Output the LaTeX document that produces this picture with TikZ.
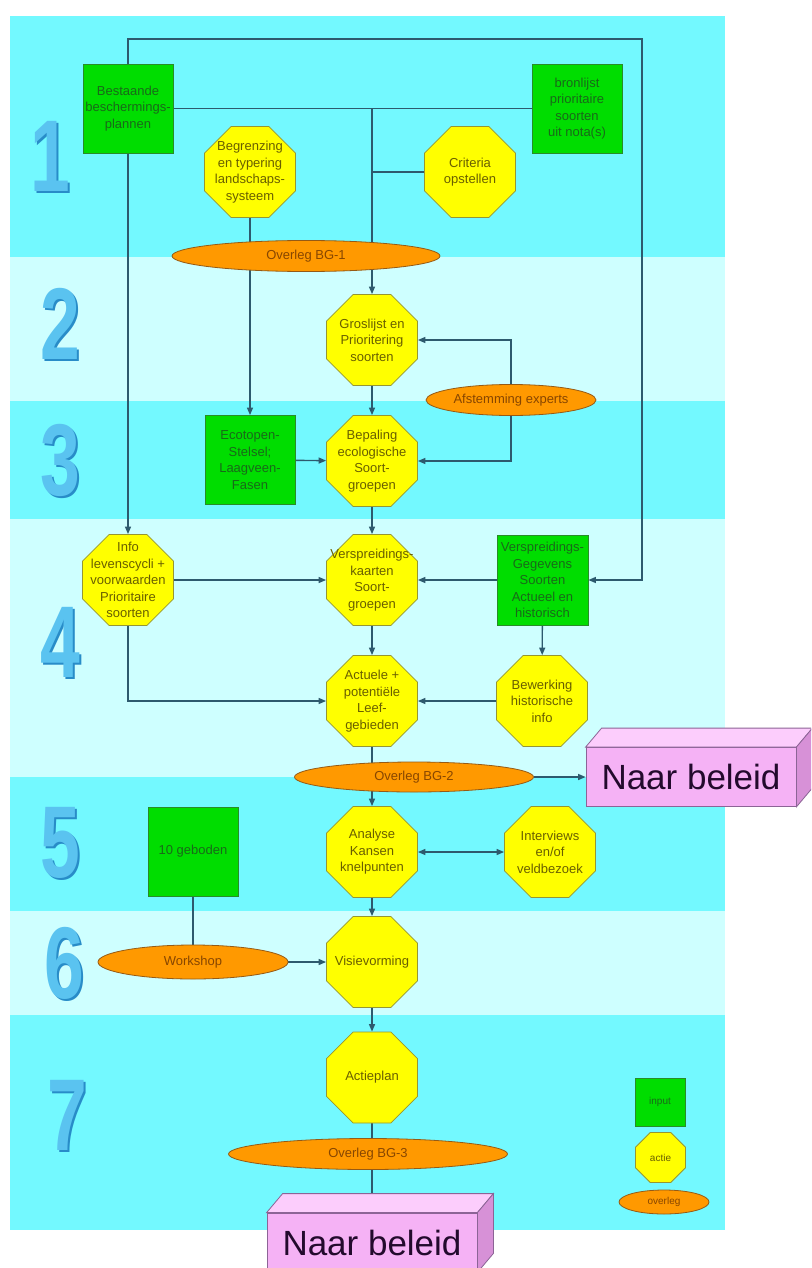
\documentclass[tikz,border=0pt]{standalone}
\usepackage{fontspec}
\setmainfont{Liberation Sans}
\usetikzlibrary{shapes.geometric,arrows.meta}

\definecolor{bandA}{RGB}{115,249,255}
\definecolor{bandB}{RGB}{206,255,255}
\definecolor{ingreen}{RGB}{0,221,0}
\definecolor{inline}{RGB}{40,140,40}
\definecolor{intext}{RGB}{25,105,25}
\definecolor{octfill}{RGB}{255,255,0}
\definecolor{octline}{RGB}{150,150,50}
\definecolor{octtext}{RGB}{105,95,0}
\definecolor{ovfill}{RGB}{255,153,0}
\definecolor{ovline}{RGB}{150,90,20}
\definecolor{ovtext}{RGB}{135,70,0}
\definecolor{pinkfront}{RGB}{245,178,245}
\definecolor{pinktop}{RGB}{252,205,252}
\definecolor{pinkside}{RGB}{215,145,215}
\definecolor{pinkline}{RGB}{140,100,150}
\definecolor{linecol}{RGB}{45,90,110}
\definecolor{digitcol}{RGB}{90,195,240}
\definecolor{digitdark}{RGB}{40,140,200}

\pgfdeclarelayer{bands}
\pgfdeclarelayer{lines}
\pgfsetlayers{bands,lines,main}

\begin{document}
\begin{tikzpicture}[x=1pt,y=-1pt,
  every node/.style={inner sep=0pt},
  txt/.style={align=center,font=\fontsize{13}{16.5}\selectfont},
  inbox/.style={rectangle,txt,fill=ingreen,draw=inline,line width=.8pt,text=intext,minimum width=90,minimum height=89},
  oct/.style={regular polygon,regular polygon sides=8,fill=octfill,draw=octline,line width=.8pt,minimum size=98.5},
  otxt/.style={txt,text=octtext},
  overleg/.style={ellipse,txt,fill=ovfill,draw=ovline,line width=.8pt,text=ovtext,minimum height=31},
  beleid/.style={rectangle,fill=pinkfront,draw=pinkline,line width=.8pt,minimum width=210,minimum height=59,
    text={rgb,255:red,35;green,10;blue,45},font=\fontsize{35}{40}\selectfont},
  digit/.style={text=digitcol,font=\fontsize{102}{102}\selectfont\bfseries,xscale=.7},
  conn/.style={draw=linecol,line width=1.4pt},
  arr/.style={conn,-{Triangle[length=7.5pt,width=6pt]}},
  dbl/.style={conn,{Triangle[length=7.5pt,width=6pt]}-{Triangle[length=7.5pt,width=6pt]}}]

\useasboundingbox (0,0) rectangle (811,1268);
\clip (0,0) rectangle (811,1268);

% bands
\begin{pgfonlayer}{bands}
\fill[white] (0,0) rectangle (811,1268);
\foreach \ya/\yb/\c in {16/257/bandA,257/401/bandB,401/519/bandA,519/777/bandB,777/911/bandA,911/1015/bandB,1015/1230/bandA}
  \fill[\c] (10,\ya) rectangle (725,\yb);
\end{pgfonlayer}

% step numbers
\foreach \n/\xx/\yy in {1/50/156,2/60/324,3/60/460,4/60/642,5/60/843,6/64/963,7/67/1115} {
  \node[digit,text=digitdark] at (\xx+2.5,\yy+2) {\n};
  \node[digit] (num\n) at (\xx,\yy) {\n};
}

% 1
\node[inbox] (bestaande) at (128,108.5) {Bestaande\\beschermings-\\plannen};
\node[inbox] (bronlijst) at (577,108.5) {bronlijst\\prioritaire\\soorten\\uit nota(s)};
\node[oct,label={[otxt]center:Begrenzing\\en typering\\landschaps-\\systeem}] (begrenzing) at (250,172) {};
\node[oct,label={[otxt]center:Criteria\\opstellen}] (criteria) at (470,172) {};
\node[overleg,minimum width=268] (overleg1) at (306,256) {Overleg BG-1};
\coordinate (topR) at (642,39);
\coordinate (j1) at (372,108.5);
\coordinate (j2) at (372,172);

% 2 en 3
\node[oct,label={[otxt]center:Groslijst en\\Prioritering\\soorten}] (groslijst) at (372,340) {};
\node[overleg,minimum width=170] (afstemming) at (511,400) {Afstemming experts};
\node[inbox] (ecotopen) at (250,460) {Ecotopen-\\Stelsel;\\Laagveen-\\Fasen};
\node[oct,label={[otxt]center:Bepaling\\ecologische\\Soort-\\groepen}] (bepaling) at (372,461) {};

% 4
\node[oct,label={[otxt]center:Info\\levenscycli +\\voorwaarden\\Prioritaire\\soorten}] (info) at (128,580) {};
\node[oct,label={[otxt]center:Verspreidings-\\kaarten\\Soort-\\groepen}] (verspkaart) at (372,580) {};
\node[inbox,minimum width=91,minimum height=90] (gegevens) at (542.5,580) {Verspreidings-\\Gegevens\\Soorten\\Actueel en\\historisch};
\node[oct,label={[otxt]center:Actuele +\\potentiële\\Leef-\\gebieden}] (actuele) at (372,701) {};
\node[oct,label={[otxt]center:Bewerking\\historische\\info}] (bewerking) at (542,701) {};
\node[overleg,minimum width=239,minimum height=30] (overleg2) at (414,777) {Overleg BG-2};
\node[beleid] (naar1) at (691,777) {Naar beleid};

% 5 en 6
\node[inbox] (geboden) at (193,851.5) {10 geboden};
\node[oct,label={[otxt]center:Analyse\\Kansen\\knelpunten}] (analyse) at (372,852) {};
\node[oct,label={[otxt]center:Interviews\\en/of\\veldbezoek}] (interviews) at (550,852) {};
\node[overleg,minimum width=190,minimum height=34] (workshop) at (193,962) {Workshop};
\node[oct,label={[otxt]center:Visievorming}] (visie) at (372,962) {};

% 7
\node[oct,label={[otxt]center:Actieplan}] (actieplan) at (372,1077.5) {};
\node[overleg,minimum width=279] (overleg3) at (368,1154) {Overleg BG-3};
\node[beleid] (naar2) at (372,1242.5) {Naar beleid};

% legenda
\node[inbox,minimum width=50,minimum height=48,font=\fontsize{10}{12}\selectfont] (leginput) at (660,1102) {input};
\node[oct,minimum size=54,label={[otxt,font=\fontsize{10}{12}\selectfont]center:actie}] (legactie) at (660.5,1157.5) {};
\node[overleg,minimum width=90,minimum height=24,font=\fontsize{10}{12}\selectfont] (legoverleg) at (664,1202) {overleg};

% 3D boxes
\foreach \nb in {naar1,naar2} {
  \filldraw[fill=pinktop,draw=pinkline,line width=.8pt] (\nb.north west) -- ++(16,-19) -- ([shift={(16,-19)}]\nb.north east) -- (\nb.north east) -- cycle;
  \filldraw[fill=pinkside,draw=pinkline,line width=.8pt] (\nb.north east) -- ++(16,-19) -- ([shift={(16,-19)}]\nb.south east) -- (\nb.south east) -- cycle;
}

% connectors
\begin{pgfonlayer}{lines}
\draw[arr] (bestaande.north) |- (topR) |- (gegevens.east);
\draw[arr] (bestaande) -- (info);
\draw[conn] (bestaande) -- (bronlijst);
\draw[arr] (j1) -- (groslijst.north);
\draw[conn] (j2) -- (criteria);
\draw[arr] (begrenzing) -- (ecotopen);
\draw[arr] (afstemming.north) |- (groslijst.east);
\draw[arr] (afstemming.south) |- (bepaling.east);
\draw[arr] (groslijst) -- (bepaling);
\draw[arr] (ecotopen) -- (bepaling);
\draw[arr] (bepaling) -- (verspkaart);
\draw[arr] (info) -- (verspkaart);
\draw[arr] (gegevens) -- (verspkaart);
\draw[arr] (verspkaart) -- (actuele);
\draw[arr] (gegevens) -- (bewerking);
\draw[arr] (bewerking) -- (actuele);
\draw[arr] (info.south) |- (actuele.west);
\draw[arr] (actuele) -- (analyse);
\draw[arr] (overleg2.east) -- (naar1.west);
\draw[dbl] (analyse) -- (interviews);
\draw[arr] (analyse) -- (visie);
\draw[conn] (geboden) -- (workshop);
\draw[arr] (workshop) -- (visie);
\draw[arr] (visie) -- (actieplan);
\draw[conn] (actieplan) -- (naar2);
\end{pgfonlayer}
\end{tikzpicture}
\end{document}
